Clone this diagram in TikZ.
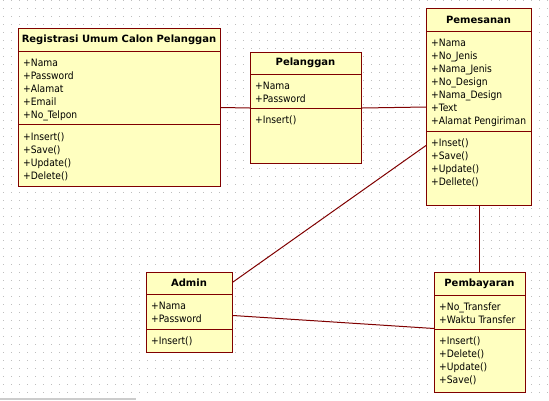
\documentclass[tikz,border=0pt]{standalone}
\usepackage{fontspec}
\setmainfont{DejaVu Sans Condensed}
\newfontfamily\headfont{DejaVu Sans}
\usetikzlibrary{positioning}
\definecolor{umlfill}{RGB}{255,255,192}
\definecolor{umlline}{RGB}{128,0,0}
\definecolor{griddot}{RGB}{190,190,190}

\begin{document}
\begin{tikzpicture}[x=1pt,y=-1pt]
            \tikzstyle{classbox}=[rectangle, draw=umlline, fill=umlfill, line width=1pt, anchor=north west, inner sep=0pt]
            \tikzstyle{title}=[font=\headfont\fontsize{10}{13}\selectfont\bfseries, inner sep=0pt]
            \tikzstyle{members}=[font=\fontsize{10.2}{13}\selectfont, align=left, anchor=base west, inner sep=0pt]
            \tikzstyle{sep}=[draw=umlline, line width=1pt]
            \tikzstyle{connect}=[draw=umlline, line width=1pt]
            \fill[white] (0,0) rectangle (549,400);
            \useasboundingbox (0,0) rectangle (549,400);
            \foreach \gx in {3,11,...,547}
                \foreach \gy in {0,8,...,399}
                    \fill[griddot] (\gx,\gy) rectangle ++(1,1);
            \fill[gray!40] (0,398) rectangle (136,400);

            \node[classbox, minimum width=202pt, minimum height=158pt] (reg) at (18,28){};
            \node[classbox, minimum width=111pt, minimum height=111pt] (pel) at (250,52){};
            \node[classbox, minimum width=105pt, minimum height=197pt] (pem) at (426,8){};
            \node[classbox, minimum width=86pt, minimum height=80pt] (adm) at (146,272){};
            \node[classbox, minimum width=91pt, minimum height=120pt] (pemb) at (434,272){};

            \draw[sep] (reg.west |- 0,51) -- (reg.east |- 0,51);
            \draw[sep] (reg.west |- 0,124) -- (reg.east |- 0,124);
            \draw[sep] (pel.west |- 0,74) -- (pel.east |- 0,74);
            \draw[sep] (pel.west |- 0,108) -- (pel.east |- 0,108);
            \draw[sep] (pem.west |- 0,31) -- (pem.east |- 0,31);
            \draw[sep] (pem.west |- 0,131) -- (pem.east |- 0,131);
            \draw[sep] (adm.west |- 0,294) -- (adm.east |- 0,294);
            \draw[sep] (adm.west |- 0,329) -- (adm.east |- 0,329);
            \draw[sep] (pemb.west |- 0,295) -- (pemb.east |- 0,295);
            \draw[sep] (pemb.west |- 0,329) -- (pemb.east |- 0,329);

            % members anchored on the baseline of their last line
            \node[title] (regT) at (119,39.5){Registrasi Umum Calon Pelanggan};
            \node[members] (regA) at (23,118){+Nama\\+Password\\+Alamat\\+Email\\+No\_Telpon};
            \node[members] (regM) at (23,179){+Insert()\\+Save()\\+Update()\\+Delete()};

            \node[title] (pelT) at (305.5,63){Pelanggan};
            \node[members] (pelA) at (255,102){+Nama\\+Password};
            \node[members] (pelM) at (255,123){+Insert()};

            \node[title] (pemT) at (478.5,19.5){Pemesanan};
            \node[members] (pemA) at (431,124){+Nama\\+No\_Jenis\\+Nama\_Jenis\\+No\_Design\\+Nama\_Design\\+Text\\+Alamat Pengiriman};
            \node[members] (pemM) at (431,185){+Inset()\\+Save()\\+Update()\\+Dellete()};

            \node[title] (admT) at (189,283){Admin};
            \node[members] (admA) at (151,322){+Nama\\+Password};
            \node[members] (admM) at (151,344){+Insert()};

            \node[title] (pembT) at (479.5,283.5){Pembayaran};
            \node[members] (pembA) at (439,323){+No\_Transfer\\+Waktu Transfer};
            \node[members] (pembM) at (439,383){+Insert()\\+Delete()\\+Update()\\+Save()};

            \path (reg.east) edge [connect] (pel.west);
            \path (pel.east) edge [connect] (pem.west);
            \path ([yshift=-38.5pt]pem.west) edge [connect] ([yshift=-10pt]adm.north east);
            \path ([yshift=-3pt]adm.east) edge [connect] ([yshift=4pt]pemb.west);
            \path (pem.south) edge [connect] (pem.south |- pemb.north);

        \end{tikzpicture}
\end{document}
